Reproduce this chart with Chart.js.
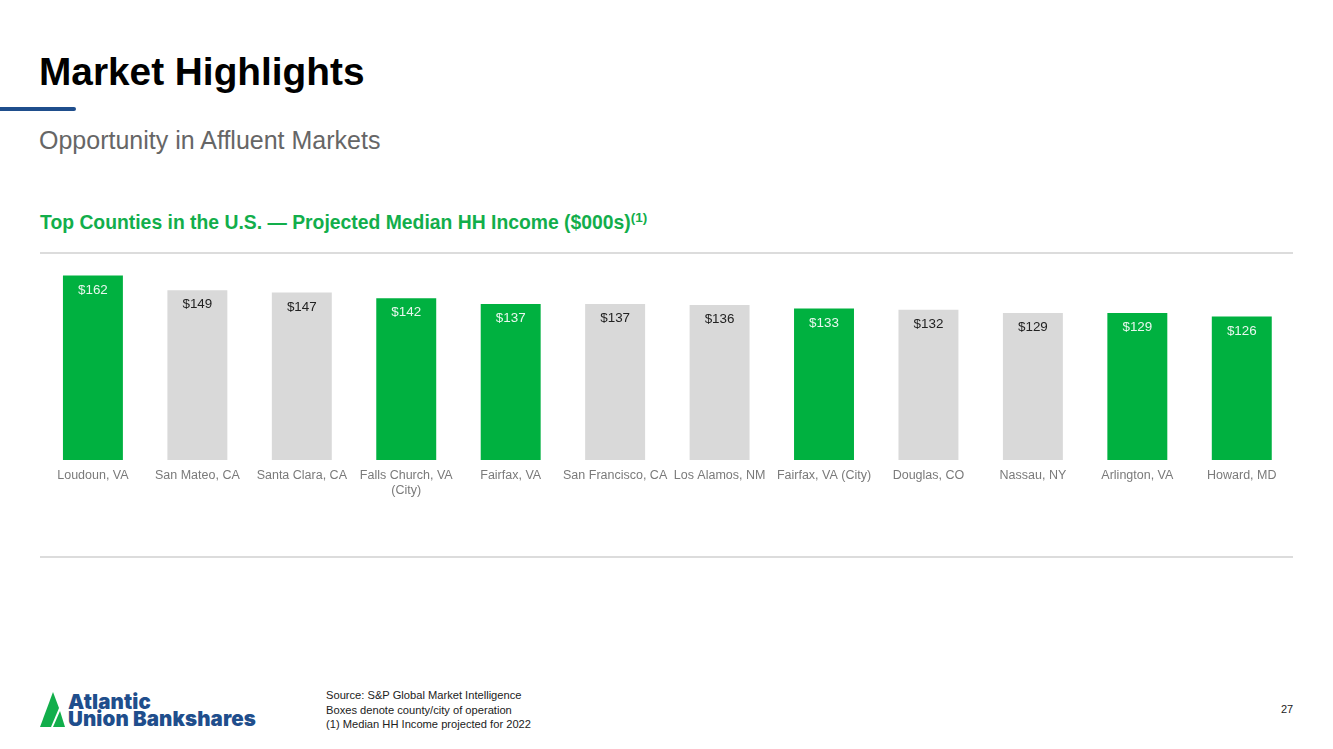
<!DOCTYPE html>
<html>
<head>
<meta charset="utf-8">
<title>Market Highlights</title>
<script src="https://cdn.jsdelivr.net/npm/chart.js@4"></script>
<style>
	html, body { margin: 0; padding: 0; background: #fff; }
	body { width: 1333px; height: 749px; position: relative; overflow: hidden; font-family: "Liberation Sans", Arial, sans-serif; }
	.abs { position: absolute; white-space: nowrap; }
	#title { left: 39px; top: 50px; font-size: 38.8px; line-height: 44px; font-weight: bold; color: #000; }
	#accent { left: -4px; top: 107px; width: 80px; height: 4px; border-radius: 2px; background: #1f4e8c; }
	#subtitle { left: 39px; top: 125px; font-size: 25px; line-height: 30px; color: #666; }
	#heading { left: 40px; top: 210px; font-size: 19.35px; line-height: 24px; font-weight: bold; color: #12ae4b; }
	#heading sup { font-size: 13.5px; line-height: 0; }
	.rule { left: 40px; width: 1253px; height: 2px; background: #dcdcdc; }
	#chartbox { position: absolute; left: 40px; top: 255px; width: 1254px; height: 256px; }
	#footnotes { left: 326px; top: 688px; font-size: 11.15px; line-height: 14.5px; color: #222; }
	#page { left: 1281px; top: 702px; font-size: 11px; line-height: 14px; color: #222; }
	#logo-text { left: 68px; top: 693px; font-family: Inter, sans-serif; font-weight: 900; font-size: 20.5px; line-height: 17px; letter-spacing: 0.1px; color: #1f4e8c; }
</style>
</head>
<body>
<div class="abs" id="title">Market Highlights</div>
<div class="abs" id="accent"></div>
<div class="abs" id="subtitle">Opportunity in Affluent Markets</div>
<div class="abs" id="heading">Top Counties in the U.S. — Projected Median HH Income ($000s)<sup>(1)</sup></div>
<div class="abs rule" style="top:252px"></div>
<div id="chartbox"><canvas id="myChart"></canvas></div>
<div class="abs rule" style="top:556px"></div>

<svg class="abs" style="left:38px;top:691px" width="30" height="37" viewBox="0 0 30 37">
	<polygon points="15,1 2,36 13,36 21,17" fill="#12ae4b"/>
	<polygon points="22,20 27,36 15,36" fill="#12ae4b"/>
</svg>
<div class="abs" id="logo-text">Atlantic<br>Union Bankshares</div>

<div class="abs" id="footnotes">Source: S&amp;P Global Market Intelligence<br>Boxes denote county/city of operation<br>(1) Median HH Income projected for 2022</div>
<div class="abs" id="page">27</div>

<script>
const counties = ['Loudoun, VA', 'San Mateo, CA', 'Santa Clara, CA', ['Falls Church, VA', '(City)'], 'Fairfax, VA', 'San Francisco, CA', 'Los Alamos, NM', 'Fairfax, VA (City)', 'Douglas, CO', 'Nassau, NY', 'Arlington, VA', 'Howard, MD']
const income = [162, 149, 147, 142, 137, 137, 136, 133, 132, 129, 129, 126]
const operating = [true, false, false, true, true, false, false, true, false, false, true, true]

// value labels sit just inside the top of each bar
const barLabels = {
	id: 'barLabels',
	afterDatasetsDraw(chart) {
		const ctx = chart.ctx
		ctx.save()
		ctx.font = '13.4px "Liberation Sans"'
		ctx.textAlign = 'center'
		ctx.textBaseline = 'middle'
		chart.getDatasetMeta(0).data.forEach((bar, i) => {
			ctx.fillStyle = operating[i] ? '#e8f7ee' : '#222'
			ctx.fillText('$' + income[i], bar.x, bar.y + 14.5)
		})
		ctx.restore()
	}
}

new Chart(document.getElementById('myChart'), {
	type: 'bar',
	data: {
		labels: counties,
		datasets: [{
			data: income,
			backgroundColor: operating.map(o => o ? '#00b140' : '#d9d9d9'),
			categoryPercentage: 1,
			barPercentage: 0.574
		}]
	},
	options: {
		responsive: true,
		maintainAspectRatio: false,
		animation: false,
		layout: { padding: { left: 0.7 } },
		plugins: { legend: { display: false }, tooltip: { enabled: false } },
		scales: {
			x: {
				afterFit: scale => { scale.height = 51 },
				grid: { display: false, drawTicks: false },
				border: { display: false },
				ticks: {
					autoSkip: false,
					maxRotation: 0,
					minRotation: 0,
					padding: 8,
					color: '#7a7a7a',
					font: { family: 'Liberation Sans', size: 12.5 }
				}
			},
			y: { display: false, min: 0, max: 180 }
		}
	},
	plugins: [barLabels]
})
</script>
</body>
</html>
